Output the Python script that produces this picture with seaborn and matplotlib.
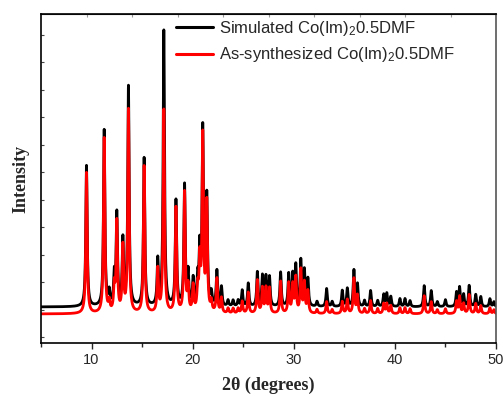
import numpy as np
import pandas as pd
import matplotlib
matplotlib.use("Agg")
import matplotlib.pyplot as plt
import seaborn as sns

pos_picos = [9.5, 11.25, 11.75, 12.25, 12.5, 13.1, 13.65, 15.2, 16.55, 17.15,
             18.35, 19.2, 19.55, 20.05, 20.5, 20.7, 21.0, 21.4, 21.85, 22.4,
             22.85, 23.5, 24.0, 24.5, 24.9, 25.5, 26.4, 26.9, 27.25, 27.6,
             28.7, 29.5, 29.9, 30.2, 30.7, 31.05, 31.4, 32.3, 33.25, 33.8,
             34.8, 35.3, 35.95, 36.3, 37.0, 37.6, 38.3, 38.9, 39.2, 39.6,
             40.5, 41.0, 41.5, 42.9, 43.6, 44.2, 45.0, 46.1, 46.4, 46.8,
             47.35, 48.0, 48.5, 49.4, 49.8]
alt_simulado = [141, 176, 13, 29, 91, 65, 219, 148, 45, 275,
                105, 120, 32, 26, 25, 54, 175, 108, 12, 35,
                19, 6, 6, 6, 16, 23, 34, 30, 29, 29,
                34, 32, 31, 40, 45, 35, 27, 5, 18, 5,
                16, 18, 36, 22, 6, 16, 6, 12, 13, 10,
                8, 8, 6, 21, 16, 5, 7, 14, 19, 12,
                21, 12, 10, 8, 5]
alt_sintetizado = [141, 175, 10, 25, 90, 65, 203, 147, 43, 203,
                   105, 120, 25, 26, 22, 50, 175, 108, 10, 34,
                   15, 5, 5, 5, 12, 21, 33, 25, 25, 25,
                   32, 30, 28, 35, 43, 30, 22, 4, 12, 4,
                   12, 14, 35, 18, 5, 13, 5, 10, 10, 8,
                   6, 6, 5, 18, 12, 4, 5, 12, 17, 10,
                   19, 10, 8, 6, 4]
base_simulado = 36
base_sintetizado = 29
nomes = ["Simulated Co(Im)$_2$0.5DMF", "As-synthesized Co(Im)$_2$0.5DMF"]

gama = 0.08
x = np.arange(5, 50.001, 0.01)


def perfil(base, alturas):
    y = np.full_like(x, float(base))
    for p, h in zip(pos_picos, alturas):
        y += h * gama**2 / ((x - p) ** 2 + gama**2)
    return y


df = pd.concat([
    pd.DataFrame({"x": x, "y": perfil(base_simulado, alt_simulado), "serie": nomes[0]}),
    pd.DataFrame({"x": x, "y": perfil(base_sintetizado, alt_sintetizado), "serie": nomes[1]}),
])

sns.set_style("ticks")
plt.rcParams["font.family"] = ["Liberation Sans", "DejaVu Sans"]
plt.rcParams["mathtext.default"] = "regular"

fig = plt.figure(figsize=(5.03, 3.96), dpi=100)
ax = fig.add_axes([0.0815, 0.1338, 0.9045, 0.8308])

sns.lineplot(data=df, x="x", y="y", hue="serie", palette=["black", "#ff0000"],
             linewidth=2.0, ax=ax, estimator=None, sort=False)

ax.set_xlim(5, 50)
ax.set_ylim(0, 329)
ax.set_xticks([10, 20, 30, 40, 50])
ax.set_xticks([5, 15, 25, 35, 45], minor=True)
ax.set_yticks(np.arange(6, 329, 27.5))
ax.set_yticklabels([])
ax.tick_params(axis="x", which="major", direction="out", length=4, width=1,
               labelsize=10.5, pad=3.5)
ax.tick_params(axis="x", which="minor", direction="out", length=3, width=1)
ax.tick_params(axis="y", direction="in", length=2, width=0.8, color="#444444")
for s in ax.spines.values():
    s.set_linewidth(1.2)
    s.set_color("black")
ax.spines["right"].set_color("#555555")

topo = ax.secondary_xaxis("top")
topo.set_xticks(np.arange(9.55, 50, 4.5))
topo.set_xticklabels([])
topo.tick_params(direction="in", length=2, width=0.8, color="#999999")

ax.set_xlabel("2θ (degrees)", family=["Liberation Serif", "DejaVu Serif"],
              fontweight="bold", fontsize=13, labelpad=6.5)
ax.set_ylabel("Intensity", family=["Liberation Serif", "DejaVu Serif"],
              fontweight="bold", fontsize=13, labelpad=5)

h, l = ax.get_legend_handles_labels()
for hd in h:
    hd.set_linewidth(2.2)
ax.legend(h, l, loc="upper left", bbox_to_anchor=(0.297, 0.985), frameon=False,
          fontsize=12, handlelength=2.2, handletextpad=0.35, labelspacing=0.45,
          borderpad=0, borderaxespad=0)

fig.savefig("out.png", dpi=100)
